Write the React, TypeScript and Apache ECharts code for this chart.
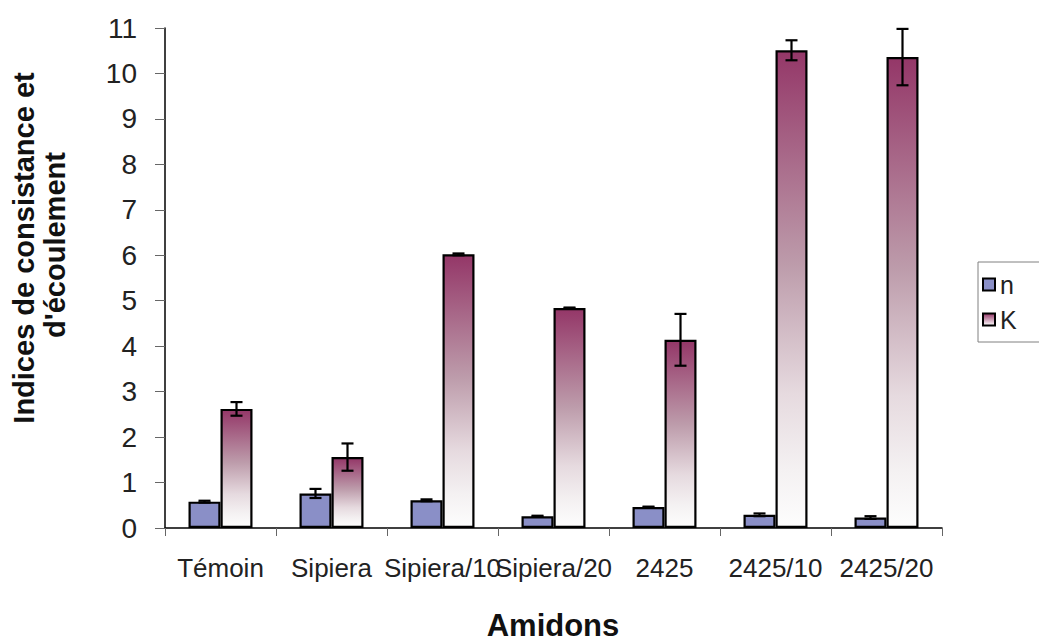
import React, { useEffect, useRef } from "react";
import * as echarts from "echarts";

const categories = ["Témoin", "Sipiera", "Sipiera/10", "Sipiera/20", "2425", "2425/10", "2425/20"];
const nValues = [0.58, 0.76, 0.61, 0.26, 0.46, 0.29, 0.23];
const nErrors = [0.02, 0.1, 0.02, 0.01, 0.01, 0.03, 0.03];
const kValues = [2.62, 1.56, 6.02, 4.84, 4.14, 10.51, 10.36];
const kErrors = [0.15, 0.3, 0.02, 0.01, 0.57, 0.22, 0.62];
const yTicks = { min: 0, max: 11, interval: 1 };

const FONT = "'Liberation Sans', Arial, sans-serif";
const BAR_W = 32;

export default function App() {
  const ref = useRef<HTMLDivElement>(null);
  useEffect(() => {
    if (!ref.current) return;
    const chart = echarts.init(ref.current, null, { renderer: "svg" });
    const kGradient = new echarts.graphic.LinearGradient(0, 0, 0, 1, [
      { offset: 0, color: "#943768" },
      { offset: 0.45, color: "#bd9cab" },
      { offset: 0.72, color: "#e6dadf" },
      { offset: 0.88, color: "#f4f1f2" },
      { offset: 1, color: "#fdfdfd" },
    ]);
    const legendGradient = new echarts.graphic.LinearGradient(0, 0, 0, 1, [
      { offset: 0, color: "#943768" },
      { offset: 1, color: "#ffffff" },
    ]);
    const errSeries = (vals: number[], errs: number[], offsetSign: number) => ({
      type: "custom",
      z: 10,
      silent: true,
      data: vals.map((v, i) => [i, v, errs[i]]),
      renderItem: (params: any, api: any) => {
        const i = api.value(0);
        const v = api.value(1);
        const e = api.value(2);
        const top = api.coord([i, v + e]);
        const bot = api.coord([i, v - e]);
        const x = top[0] + offsetSign * BAR_W / 2;
        const cap = 6;
        const style = { stroke: "#000", lineWidth: 2.2 };
        return {
          type: "group",
          children: [
            { type: "line", shape: { x1: x, y1: top[1], x2: x, y2: bot[1] }, style },
            { type: "line", shape: { x1: x - cap, y1: top[1], x2: x + cap, y2: top[1] }, style },
            { type: "line", shape: { x1: x - cap, y1: bot[1], x2: x + cap, y2: bot[1] }, style },
          ],
        };
      },
    });
    chart.setOption({
      animation: false,
      backgroundColor: "#ffffff",
      grid: { left: 165, right: 97, top: 28, bottom: 113 },
      legend: {
        orient: "vertical",
        left: 978,
        top: 262,
        icon: "rect",
        itemWidth: 12,
        itemHeight: 12,
        itemGap: 10,
        padding: [10, 30, 10, 4],
        borderColor: "#808080",
        borderWidth: 1,
        textStyle: { fontFamily: FONT, fontSize: 25, color: "#222" },
        data: [
          { name: "n", itemStyle: { color: "#8A8FC7", borderColor: "#000", borderWidth: 2 } },
          { name: "K", itemStyle: { color: legendGradient, borderColor: "#000", borderWidth: 2 } },
        ],
      },
      xAxis: {
        type: "category",
        data: categories,
        axisLine: { show: true, lineStyle: { color: "#000", width: 1.5 } },
        axisTick: { show: true, length: 8, lineStyle: { color: "#666" } },
        axisLabel: { interval: 0, fontFamily: FONT, fontSize: 26, color: "#222", margin: 27 },
      },
      yAxis: {
        type: "value",
        min: yTicks.min,
        max: yTicks.max,
        interval: yTicks.interval,
        splitLine: { show: false },
        axisLine: { show: true, lineStyle: { color: "#000", width: 1.5 } },
        axisTick: { show: true, length: 10, lineStyle: { color: "#666" } },
        axisLabel: { fontFamily: FONT, fontSize: 28, color: "#222", margin: 28 },
      },
      graphic: [
        {
          type: "text",
          x: 24,
          y: 248,
          rotation: Math.PI / 2,
          style: {
            text: "Indices de consistance et",
            font: `bold 29px ${FONT}`,
            fill: "#111",
            align: "center",
            verticalAlign: "middle",
          },
        },
        {
          type: "text",
          x: 55,
          y: 245,
          rotation: Math.PI / 2,
          style: {
            text: "d'écoulement",
            font: `bold 29px ${FONT}`,
            fill: "#111",
            align: "center",
            verticalAlign: "middle",
          },
        },
        {
          type: "text",
          x: 553,
          y: 625,
          style: {
            text: "Amidons",
            font: `bold 31px ${FONT}`,
            fill: "#111",
            align: "center",
            verticalAlign: "middle",
          },
        },
      ],
      series: [
        {
          name: "n",
          type: "bar",
          barWidth: BAR_W,
          barGap: "0%",
          data: nValues,
          itemStyle: { color: "#8A8FC7", borderColor: "#000", borderWidth: 2.2 },
        },
        {
          name: "K",
          type: "bar",
          barWidth: BAR_W,
          barGap: "0%",
          data: kValues,
          itemStyle: { color: kGradient, borderColor: "#000", borderWidth: 2.2 },
        },
        errSeries(nValues, nErrors, -1),
        errSeries(kValues, kErrors, 1),
      ],
    });
    return () => chart.dispose();
  }, []);
  return (
    <div
      ref={ref}
      style={{ position: "absolute", left: 0, top: 0, width: 1039, height: 641 }}
    />
  );
}
